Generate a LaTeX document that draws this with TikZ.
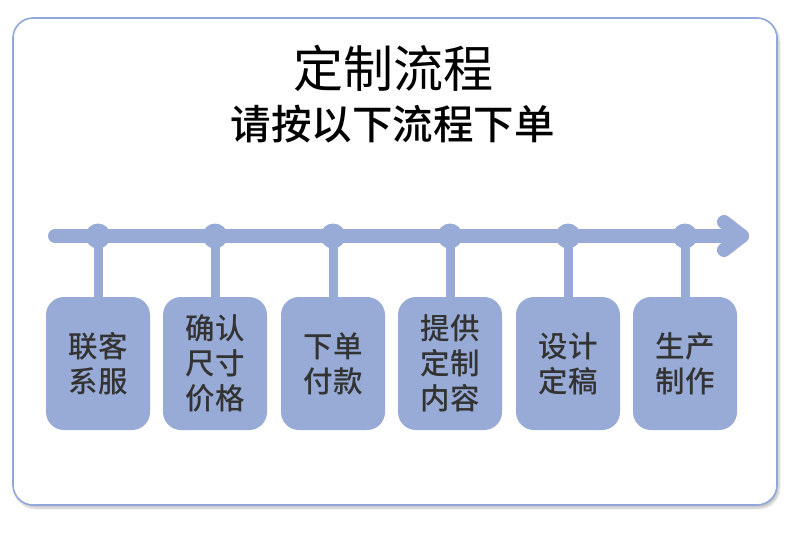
\documentclass[tikz,border=0pt]{standalone}
\usepackage{fontspec}
\setmainfont{Noto Sans CJK SC}
\newfontfamily\cjkmed{Noto Sans CJK SC Medium}
\usetikzlibrary{shadows.blur}
\definecolor{lineblue}{HTML}{98ABD6}
\definecolor{frameblue}{HTML}{8FA7DA}
\definecolor{txt}{HTML}{333333}
\tikzset{
  frame/.style={draw=frameblue,line width=1.6pt,fill=white,rounded corners=20pt,
    blur shadow={shadow xshift=2pt,shadow yshift=-3pt,shadow blur steps=6,shadow opacity=25}},
  stepbox/.style={fill=lineblue,rounded corners=18pt,minimum width=104pt,minimum height=133pt,
    inner sep=0pt,align=center,text=txt,font=\cjkmed\fontsize{29.5}{35}\selectfont},
  dot/.style={circle,fill=lineblue,minimum size=25pt,inner sep=0pt},
  stem/.style={draw=lineblue,line width=9pt},
  axis/.style={draw=lineblue,line width=14pt,line cap=round,line join=round},
}
\begin{document}
\begin{tikzpicture}[x=1pt,y=-1pt]
\useasboundingbox (0,0) rectangle (790,542);
\node[frame,minimum width=764pt,minimum height=487pt,inner sep=0pt] (fr) at (395,261.5) {};
\node[font=\fontsize{50}{54}\selectfont,text=black] (t1) at (393,68) {定制流程};
\node[font=\cjkmed\fontsize{40.5}{44}\selectfont,text=black] (t2) at (392.5,124) {请按以下流程下单};
\coordinate (s) at (55,236);
\coordinate (e) at (742,236);
\draw[axis] (s) -- (e);
\coordinate (h1) at (724,222);
\coordinate (h2) at (724,250);
\draw[axis] (h1) -- (e) -- (h2);
\foreach \i/\x/\t in {1/98/{联客\\系服},2/215/{确认\\尺寸\\价格},3/333/{下单\\付款},4/450/{提供\\定制\\内容},5/568/{设计\\定稿},6/685/{生产\\制作}}{
  \node[dot] (d\i) at (\x,236) {};
  \node[stepbox] (b\i) at (\x,363.5) {\t};
  \draw[stem] (d\i.center) -- ([yshift=-2pt]b\i.north);
}
\end{tikzpicture}
\end{document}
